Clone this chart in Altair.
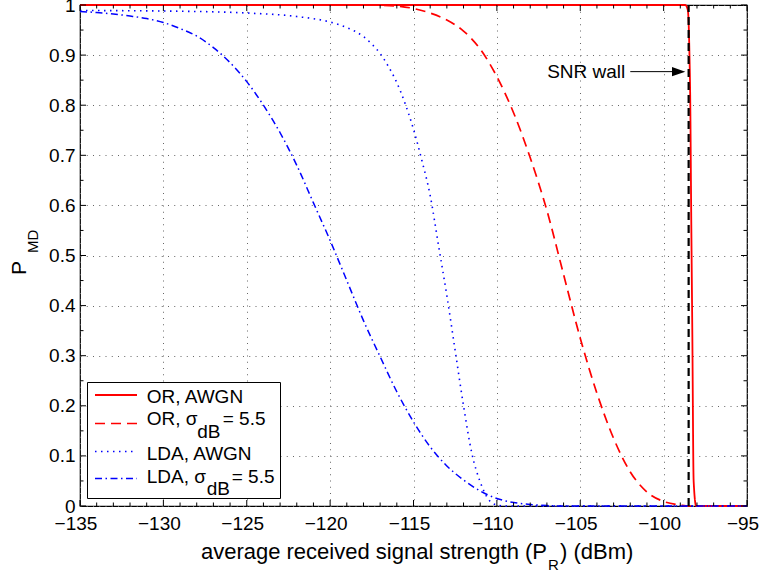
import altair as alt
import pandas as pd

# ---------------- data ----------------
or_awgn_x = [-135, -98.7, -98.55, -98.45, -98.4, -98.35, -98.28, -98.2, -98.05, -95]
or_awgn_y = [1, 1, 0.99, 0.9, 0.8, 0.6, 0.35, 0.05, 0, 0]

or_sig_x = [-135, -118, -117, -116, -115, -114, -113, -112, -111, -110, -109, -108, -107,
            -106, -105, -104, -103, -102, -101, -100, -99, -98.5, -95]
or_sig_y = [1, 1, 0.9995, 0.998, 0.993, 0.984, 0.970, 0.948, 0.912, 0.857, 0.785, 0.695, 0.59,
            0.462, 0.335, 0.225, 0.135, 0.068, 0.028, 0.009, 0.002, 0, 0]

lda_awgn_x = [-135, -130, -125, -122, -120, -119, -118, -117.5, -117, -116.5, -116, -115.5,
              -115, -114.5, -114, -113.5, -113, -112.5, -112, -111.5, -111, -110.5,
              -110, -109.5, -95]
lda_awgn_y = [0.989, 0.988, 0.984, 0.977, 0.966, 0.955, 0.937, 0.922, 0.903, 0.877, 0.845, 0.803,
              0.752, 0.69, 0.62, 0.52, 0.42, 0.31, 0.2, 0.105, 0.048, 0.013,
              0.002, 0, 0]

lda_sig_x = [-135, -134, -133, -132, -131, -130, -129, -128, -127, -126, -125, -124, -123,
             -122, -121, -120, -119, -118, -117, -116, -115, -114, -113, -112, -111,
             -110, -109, -108, -107, -106, -95]
lda_sig_y = [0.987, 0.985, 0.982, 0.978, 0.973, 0.965, 0.953, 0.938, 0.915, 0.885, 0.847, 0.80, 0.745,
             0.68, 0.605, 0.53, 0.45, 0.37, 0.298, 0.228, 0.168, 0.118, 0.08, 0.052, 0.03,
             0.015, 0.007, 0.003, 0.001, 0, 0]

series_names = ["OR, AWGN", "OR, sigma", "LDA, AWGN", "LDA, sigma"]
series_colors = ["#ff0000", "#ff0000", "#0000ff", "#0000ff"]
series_dash = [[1, 0], [10, 6], [1.5, 4.5], [7, 3.5, 1.5, 3.5]]
series_width = [1.8, 1.5, 1.3, 1.5]

snr_wall_x = [-98.5]
x_major = [-135, -130, -125, -120, -115, -110, -105, -100, -95]
x_labels = ["\u2212" + str(abs(v)) for v in x_major]
x_minor = [v for v in range(-134, -95) if v % 5 != 0]
y_major = [0, 0.1, 0.2, 0.3, 0.4, 0.5, 0.6, 0.7, 0.8, 0.9, 1]
y_minor = [0.05, 0.15, 0.25, 0.35, 0.45, 0.55, 0.65, 0.75, 0.85, 0.95]

FONT = "Liberation Sans"
W, H = 667, 501
GRID_DASH = [1, 5.25]
GRID_COLOR = "#666666"

rows = []
for name, xs_, ys_ in zip(series_names,
                          [or_awgn_x, or_sig_x, lda_awgn_x, lda_sig_x],
                          [or_awgn_y, or_sig_y, lda_awgn_y, lda_sig_y]):
    for i, (a, b) in enumerate(zip(xs_, ys_)):
        rows.append({"series": name, "x": a, "y": b, "i": i})
df = pd.DataFrame(rows)

xscale = alt.Scale(domain=[-135, -95], nice=False, zero=False)
yscale = alt.Scale(domain=[0, 1], nice=False, zero=False)

xaxis = alt.Axis(values=x_major, title=None, ticks=False, domain=False, grid=True,
                 gridColor=GRID_COLOR, gridDash=GRID_DASH, gridWidth=1, labels=False)
yaxis = alt.Axis(values=y_major, title=None, ticks=False, domain=False, grid=True,
                 gridColor=GRID_COLOR, gridDash=GRID_DASH, gridWidth=1,
                 labelFont=FONT, labelFontSize=19, labelColor="#000000", format="~g",
                 labelPadding=5, labelFlush=False, labelOverlap=False)


def X(field):
    return alt.X(field, scale=xscale, title=None)


def Y(field):
    return alt.Y(field, scale=yscale, title=None)


lines = alt.Chart(df).mark_line(interpolate="monotone").encode(
    x=alt.X("x:Q", scale=xscale, axis=xaxis),
    y=alt.Y("y:Q", scale=yscale, axis=yaxis),
    color=alt.Color("series:N", scale=alt.Scale(domain=series_names, range=series_colors), legend=None),
    strokeDash=alt.StrokeDash("series:N", scale=alt.Scale(domain=series_names, range=series_dash), legend=None),
    strokeWidth=alt.StrokeWidth("series:N", scale=alt.Scale(domain=series_names, range=series_width), legend=None),
    order="i:Q",
)

# x tick labels (shifted slightly left, as in the reference)
xlab = alt.Chart(pd.DataFrame({"x": x_major, "lab": x_labels})).mark_text(
    font=FONT, fontSize=19, color="#000000", align="center", baseline="top", dx=-4).encode(
    x=X("x:Q"), y=alt.value(H + 9), text="lab:N")


# frame ticks (inward)
def tick_layer(vals, field, length, side):
    d = pd.DataFrame({field: vals})
    if field == "x":
        enc = dict(x=X("x:Q"))
        if side == "bottom":
            enc.update(y=alt.value(H), y2=alt.value(H - length))
        else:
            enc.update(y=alt.value(0), y2=alt.value(length))
    else:
        enc = dict(y=Y("y:Q"))
        if side == "left":
            enc.update(x=alt.value(0), x2=alt.value(length))
        else:
            enc.update(x=alt.value(W), x2=alt.value(W - length))
    return alt.Chart(d).mark_rule(color="#000000", strokeWidth=1).encode(**enc)


ticks = [
    tick_layer(x_major, "x", 6, "bottom"), tick_layer(x_minor, "x", 3.5, "bottom"),
    tick_layer(x_major, "x", 6, "top"), tick_layer(x_minor, "x", 3.5, "top"),
    tick_layer(y_major, "y", 6, "left"), tick_layer(y_minor, "y", 3.5, "left"),
    tick_layer(y_major, "y", 6, "right"), tick_layer(y_minor, "y", 3.5, "right"),
]

# SNR wall
wall = alt.Chart(pd.DataFrame({"x": snr_wall_x, "y0": [0], "y1": [1]})).mark_rule(
    color="#000000", strokeWidth=2.2, strokeDash=[8, 5]).encode(
    x=X("x:Q"), y=Y("y0:Q"), y2="y1:Q")

ann_y = 0.867
ann = pd.DataFrame({"tx": [-102.3], "ax0": [-102.0], "ax1": [-99.45], "tip": [-98.7], "y": [ann_y],
                    "label": ["SNR wall"]})
ann_text = alt.Chart(ann).mark_text(font=FONT, fontSize=19, align="right", baseline="middle",
                                    color="#000000").encode(
    x=X("tx:Q"), y=Y("y:Q"), text="label:N")
ann_shaft = alt.Chart(ann).mark_rule(color="#000000", strokeWidth=1).encode(
    x=X("ax0:Q"), x2="ax1:Q", y=Y("y:Q"))
ann_head = alt.Chart(ann).mark_point(shape="M0,0L-2,-0.7L-2,0.7Z", filled=True, color="#000000",
                                     opacity=1, size=177, strokeWidth=0).encode(
    x=X("tip:Q"), y=Y("y:Q"))

# ---------------- custom legend (pixel layout) ----------------
one = pd.DataFrame({"a": [0]})
LEG = [alt.Chart(one).mark_rect(fill="#ffffff", stroke="#000000", strokeWidth=1).encode(
    x=alt.value(7.5), x2=alt.value(200.5), y=alt.value(377.5), y2=alt.value(493.5))]
sample_y = [390, 418.5, 446.5, 473.5]
for k in range(4):
    LEG.append(alt.Chart(one).mark_rule(color=series_colors[k], strokeDash=series_dash[k],
                                        strokeWidth=series_width[k]).encode(
        x=alt.value(15), x2=alt.value(57), y=alt.value(sample_y[k])))


def txt(s, x, y, size=19, angle=None, align="left"):
    kw = dict(font=FONT, fontSize=size, align=align, baseline="alphabetic", color="#000000")
    if angle is not None:
        kw["angle"] = angle
    return alt.Chart(one).mark_text(text=s, **kw).encode(x=alt.value(x), y=alt.value(y))


SUB = 15
LEG += [
    txt("OR, AWGN", 66.7, 398.3),
    txt("OR, σ", 66.7, 420), txt("dB", 117.3, 433), txt("= 5.5", 142.7, 420),
    txt("LDA, AWGN", 66.7, 455),
    txt("LDA, σ", 66.7, 478.3), txt("dB", 126.7, 489.5), txt("= 5.5", 151.7, 478.3),
]

# axis titles with subscripts
TITLES = [
    txt("P", -54, 270, size=21, angle=270), txt("MD", -42, 248, size=SUB, angle=270),
    txt("average received signal strength (P", 467, 554, size=22, align="right"),
    txt("R", 468, 565, size=SUB), txt(") (dBm)", 480, 554, size=22),
]

layers = [lines, wall, ann_shaft, ann_head, ann_text, xlab] + ticks + LEG + TITLES
chart = alt.layer(*layers).properties(
    width=W, height=H,
    padding={"left": 80, "top": 5, "right": 13, "bottom": 71},
    autosize=alt.AutoSizeParams(type="none"),
    background="#ffffff",
).configure_view(stroke="#000000", strokeWidth=1.2)

chart.save("out.html", embed_options={"renderer": "svg", "actions": False})
